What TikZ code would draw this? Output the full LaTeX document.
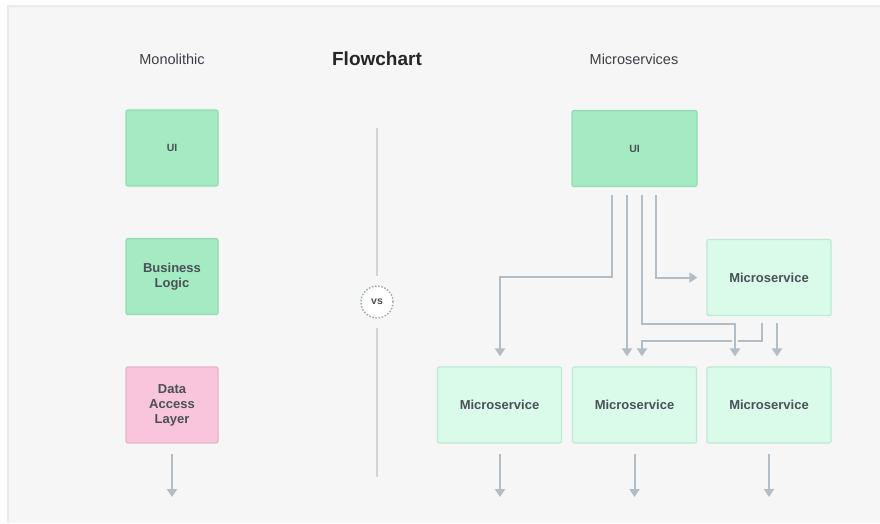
\documentclass[tikz,border=0pt]{standalone}
\usepackage{fontspec}
\setmainfont{Liberation Sans}
\usetikzlibrary{arrows.meta}
\definecolor{panel}{HTML}{F6F6F6}
\definecolor{panelrule}{HTML}{EAEAEA}
\definecolor{ink}{HTML}{4A5058}
\definecolor{uifill}{HTML}{A4EAC3}
\definecolor{uiline}{HTML}{90DCB1}
\definecolor{msfill}{HTML}{DAFBEA}
\definecolor{msline}{HTML}{BCEBD2}
\definecolor{dalfill}{HTML}{F9C5DD}
\definecolor{dalline}{HTML}{E9B2CB}
\definecolor{flow}{HTML}{B3BDC6}
\definecolor{divider}{HTML}{D0D4D8}
\tikzset{
  box/.style={draw, line width=1.2pt, rounded corners=2pt, minimum height=76pt,
    align=center, text=ink, font=\bfseries\fontsize{13}{15}\selectfont, inner sep=0pt},
  monobox/.style={box, minimum width=92pt},
  msbox/.style={box, minimum width=124pt},
  greenbox/.style={fill=uifill, draw=uiline},
  lightbox/.style={fill=msfill, draw=msline},
  pinkbox/.style={fill=dalfill, draw=dalline},
  heading/.style={text=ink!80!black, font=\fontsize{14.5}{16}\selectfont},
  flowline/.style={draw=flow, line width=2pt, -{Triangle[length=8pt,width=10pt]}},
}
\begin{document}
\begin{tikzpicture}[x=1pt,y=-1pt]
\useasboundingbox (0,0) rectangle (880,523);
% panel with its faint top and left rule
\fill[white] (0,0) rectangle (880,523);
\fill[panel] (7,5) rectangle (880,523);
\draw[panelrule, line width=2pt] (8,523) -- (8,6) -- (880,6);

% headings
\node[heading] (hmono) at (172,59) {Monolithic};
\node[text=black!85, font=\bfseries\fontsize{19}{21}\selectfont] (htitle) at (377,59) {Flowchart};
\node[heading] (hmicro) at (634,59) {Microservices};

% monolithic stack
\node[monobox, greenbox, font=\bfseries\fontsize{10.5}{12}\selectfont] (mui) at (172,148) {UI};
\node[monobox, greenbox] (mbl) at (172,276.5) {Business\\Logic};
\node[monobox, pinkbox] (mdal) at (172,405) {Data\\Access\\Layer};
\coordinate (mout) at (172,497);
\draw[flowline] ([yshift=-10pt]mdal.south) -- (mout);

% divider with the vs badge
\node[circle, fill=white, draw=flow!90!black, dash pattern=on 1.6pt off 1.6pt,
  line width=1.4pt, minimum size=32pt, inner sep=0pt, text=ink,
  font=\bfseries\fontsize{10.5}{12}\selectfont] (vs) at (377,302) {vs};
\coordinate (dtop) at (377,128);
\coordinate (dbot) at (377,477);
\draw[divider, line width=1.6pt] (dtop) -- ([yshift=9pt]vs.north);
\draw[divider, line width=1.6pt] ([yshift=-9pt]vs.south) -- (dbot);

% microservices
\node[msbox, greenbox, minimum width=125pt, font=\bfseries\fontsize{10.5}{12}\selectfont] (ui) at (634.5,148.5) {UI};
\node[msbox, lightbox] (msr) at (769,277.5) {Microservice};
\node[msbox, lightbox] (ms1) at (499.5,405) {Microservice};
\node[msbox, lightbox] (ms2) at (634.5,405) {Microservice};
\node[msbox, lightbox] (ms3) at (769,405) {Microservice};

% flows out of the UI
\draw[flowline] ([xshift=-22.5pt,yshift=-8pt]ui.south) |- (500,277) -- ([yshift=10pt]ms1.north -| 500,0);
\draw[flowline] ([xshift=-7.5pt,yshift=-8pt]ui.south) -- ([xshift=-7.5pt,yshift=10pt]ms2.north);
\draw[flowline] ([xshift=21.5pt,yshift=-8pt]ui.south) |- ([xshift=-9pt]msr.west);
% the service-to-service hop, passing under the UI flow below
\draw[flowline] ([xshift=-7pt,yshift=-7pt]msr.south) |- (642,341) -- ([xshift=7.5pt,yshift=10pt]ms2.north);
\draw[flowline, preaction={draw=panel, line width=6pt, arrows=-}] ([xshift=7.5pt,yshift=-8pt]ui.south) |- (735,324) -- ([xshift=-34pt,yshift=10pt]ms3.north);
\draw[flowline] ([xshift=8pt,yshift=-7pt]msr.south) -- ([xshift=8pt,yshift=10pt]ms3.north);

% outputs of the lower services
\coordinate (o1) at (500,497);
\coordinate (o2) at (634.5,497);
\coordinate (o3) at (769,497);
\draw[flowline] ([yshift=-10pt]ms1.south -| o1) -- (o1);
\draw[flowline] ([yshift=-10pt]ms2.south) -- (o2);
\draw[flowline] ([yshift=-10pt]ms3.south) -- (o3);
\end{tikzpicture}
\end{document}
